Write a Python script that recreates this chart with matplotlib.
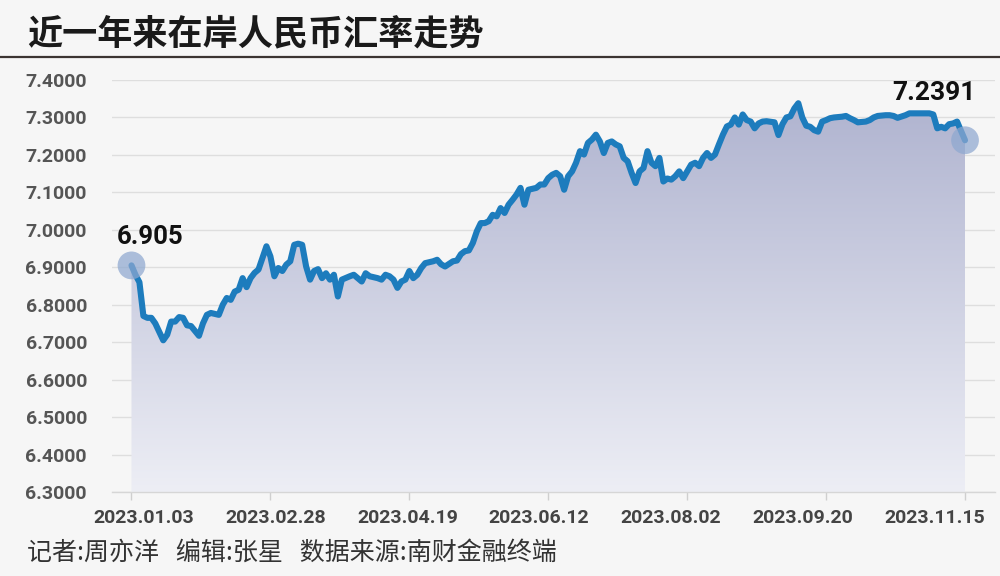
import numpy as np
import matplotlib
matplotlib.use("Agg")
import matplotlib.pyplot as plt
from matplotlib import font_manager
from matplotlib.colors import LinearSegmentedColormap
from matplotlib.lines import Line2D

# 数据: 交易日序号(0 = 2023.01.03) 与 在岸人民币汇率
days_1 = [0, 1, 2, 3, 4, 5, 6, 8, 9, 10, 11, 12, 13, 14, 15, 17, 18, 19, 20, 22,
          23, 24, 25, 26, 27, 28, 29, 30, 31, 32, 33, 34, 35, 36, 37, 38, 39, 40, 41, 42,
          43, 44, 45, 46, 47, 48, 49, 50, 51, 52]
rate_1 = [6.905, 6.88, 6.86, 6.77, 6.765, 6.765, 6.75, 6.705, 6.72, 6.755,
          6.755, 6.767, 6.765, 6.745, 6.743, 6.717, 6.75, 6.773, 6.778, 6.773,
          6.80, 6.818, 6.813, 6.835, 6.84, 6.871, 6.847, 6.871, 6.885, 6.894,
          6.925, 6.956, 6.929, 6.876, 6.898, 6.89, 6.907, 6.916, 6.96, 6.963,
          6.96, 6.902, 6.867, 6.89, 6.895, 6.871, 6.884, 6.867, 6.88, 6.822]

days_2 = [53, 55, 56, 57, 58, 59, 60, 62, 63, 64, 65, 66, 67, 68, 69, 70, 71, 72, 73, 74,
          76, 77, 78, 79, 81, 82, 83, 84, 85, 86, 87, 88, 89, 90, 91, 92, 93, 94, 95, 96,
          97, 98, 99, 100, 102, 103, 104, 105]
rate_2 = [6.867, 6.876, 6.88, 6.871, 6.862, 6.884, 6.876, 6.871, 6.867, 6.88,
          6.876, 6.867, 6.845, 6.862, 6.867, 6.89, 6.871, 6.88, 6.898, 6.911,
          6.916, 6.92, 6.908, 6.902, 6.916, 6.918, 6.935, 6.943, 6.945, 6.965,
          6.996, 7.018, 7.018, 7.023, 7.04, 7.036, 7.058, 7.045, 7.067, 7.08,
          7.094, 7.112, 7.067, 7.107, 7.112, 7.121, 7.121, 7.138]

days_3 = list(range(106, 159))
rate_3 = [7.147, 7.152, 7.143, 7.107, 7.143, 7.156, 7.179, 7.21, 7.201, 7.232,
          7.241, 7.254, 7.236, 7.205, 7.232, 7.236, 7.228, 7.223, 7.192, 7.183,
          7.152, 7.125, 7.156, 7.165, 7.21, 7.179, 7.17, 7.192, 7.129, 7.137,
          7.134, 7.143, 7.156, 7.138, 7.156, 7.174, 7.179, 7.17, 7.192, 7.205,
          7.192, 7.201, 7.228, 7.254, 7.276, 7.281, 7.30, 7.281, 7.308, 7.293,
          7.289, 7.271, 7.284]

days_4 = [159, 160, 162, 163, 164, 165, 166, 167, 168, 169, 170, 171, 172, 173, 174,
          175, 176, 177, 179, 180, 181, 182, 183, 185, 186, 187, 188, 190, 191, 192,
          193, 195, 196, 197, 198, 200, 201, 202, 203, 204, 205, 206, 207, 208, 210]
rate_4 = [7.289, 7.29, 7.287, 7.253, 7.282, 7.30, 7.303, 7.324, 7.338, 7.30,
          7.278, 7.275, 7.266, 7.262, 7.289, 7.293, 7.298, 7.30, 7.302, 7.304,
          7.298, 7.293, 7.287, 7.289, 7.293, 7.30, 7.304, 7.306, 7.306, 7.304,
          7.299, 7.306, 7.311, 7.311, 7.311, 7.311, 7.311, 7.308, 7.271, 7.275,
          7.271, 7.282, 7.284, 7.289, 7.2391]

tick_days = [0, 35, 70, 105, 140, 175, 210]
tick_labels = ["2023.01.03", "2023.02.28", "2023.04.19", "2023.06.12",
               "2023.08.02", "2023.09.20", "2023.11.15"]
y_ticks = [6.3, 6.4, 6.5, 6.6, 6.7, 6.8, 6.9, 7.0, 7.1, 7.2, 7.3, 7.4]

title = "近一年来在岸人民币汇率走势"
footer = "记者:周亦洋   编辑:张星   数据来源:南财金融终端"

days = np.array(days_1 + days_2 + days_3 + days_4)
rate = np.array(rate_1 + rate_2 + rate_3 + rate_4)

installed = {f.name for f in font_manager.fontManager.ttflist}
narrow = "Liberation Sans Narrow" if "Liberation Sans Narrow" in installed else "Roboto"
plt.rcParams["font.family"] = [narrow, "Noto Sans CJK SC", "DejaVu Sans"]
# Roboto 比原图的窄体字宽, 缩小字号以保持宽度
fs_tick = 17 if narrow != "Roboto" else 14
fs_note = 23 if narrow != "Roboto" else 18.5

bg = "#f6f6f6"
W, H = 1000, 576
fig = plt.figure(figsize=(W / 100, H / 100), dpi=100, facecolor=bg)
ax = fig.add_axes([112 / W, 84 / H, (995 - 112) / W, (492 - 80) / H])
ax.set_facecolor(bg)

x_left = -19.5 / 3.972
ax.set_xlim(x_left, 210 + 30 / 3.972)
ax.set_ylim(6.3, 7.4)

# 渐变填充
cmap = LinearSegmentedColormap.from_list("fill", ["#edeef5", "#b0b4d0"])
grad = np.linspace(0, 1, 256).reshape(-1, 1)
poly = ax.fill_between(days, rate, 6.3, facecolor="none", lw=0)
im = ax.imshow(grad, cmap=cmap, origin="lower", aspect="auto",
               extent=[0, 210, 6.3, rate.max()], zorder=1)
im.set_clip_path(poly.get_paths()[0], transform=ax.transData)

ax.plot(days, rate, color="#1d7cbd", lw=4.4, solid_joinstyle="round",
        solid_capstyle="round", zorder=3)

ends = [0, -1]
ax.scatter(days[ends], rate[ends], s=400, color="#8ea8d0", alpha=0.72,
           edgecolors="none", zorder=4)
ax.annotate(f"{rate[0]:.3f}", (days[0], rate[0]), xytext=(19, 21),
            textcoords="offset pixels", ha="center", va="baseline",
            fontsize=fs_note, fontweight="bold", color="#111111", zorder=5)
ax.annotate(f"{rate[-1]:.4f}", (days[-1], rate[-1]), xytext=(-31, 40),
            textcoords="offset pixels", ha="center", va="baseline",
            fontsize=fs_note + 0.5, fontweight="bold", color="#111111", zorder=5)

# 坐标轴
for s in ["top", "right", "left"]:
    ax.spines[s].set_visible(False)
ax.spines["bottom"].set_color("#d6d6d6")
ax.spines["bottom"].set_linewidth(1)

ax.set_yticks(y_ticks)
ax.set_yticklabels([f"{v:.4f}" for v in y_ticks])
ax.tick_params(axis="y", length=0, pad=18, labelsize=fs_tick, labelcolor="#555555")
ax.yaxis.grid(True, color="#dedede", lw=1)
ax.set_axisbelow(True)

ax.set_xticks(tick_days, minor=True)
ax.set_xticks(np.linspace(3.1, 202.3, len(tick_labels)))
ax.set_xticklabels(tick_labels)
ax.tick_params(axis="x", which="major", length=0, pad=12, labelsize=fs_tick,
               labelcolor="#444444")
ax.tick_params(axis="x", which="minor", length=6, width=1, color="#cfcfcf")
for lab in ax.get_xticklabels() + ax.get_yticklabels():
    lab.set_fontweight("bold")

fig.text(27 / W, 1 - 34 / H, title, fontsize=25.3, fontweight="bold",
         family=["Noto Sans CJK SC", "DejaVu Sans"], color="#1a1a1a", va="center")
fig.add_artist(Line2D([0, 1], [1 - 57 / H] * 2, transform=fig.transFigure,
                      color="#3b3431", lw=1.6))
fig.text(27 / W, 1 - 553 / H, footer, fontsize=18,
         family=["Noto Sans CJK SC", "DejaVu Sans"], color="#333333", va="center")

fig.savefig("out.png", dpi=100, facecolor=bg)
